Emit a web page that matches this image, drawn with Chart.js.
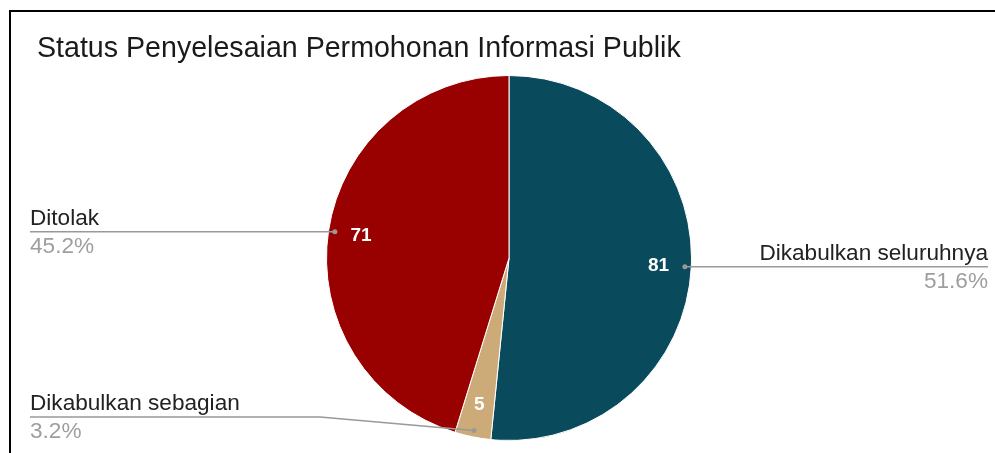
<!DOCTYPE html>
<html>
<head>
<meta charset="utf-8">
<script src="https://cdn.jsdelivr.net/npm/chart.js@4/dist/chart.umd.min.js"></script>
<style>
  html, body { margin: 0; padding: 0; background: #fff; }
  #wrap { position: relative; width: 995px; height: 453px; overflow: hidden; }
  #frame { position: absolute; left: 9px; top: 10px; right: -5px; bottom: -5px;
           border-left: 2px solid #000; border-top: 2px solid #000; }
  canvas { position: absolute; left: 0; top: 0; }
</style>
</head>
<body>
<div id="wrap">
  <div id="frame"></div>
  <canvas id="chart" width="995" height="453"></canvas>
</div>
<script>
// === Данные ===
const title = 'Status Penyelesaian Permohonan Informasi Publik';
const categories = ['Dikabulkan seluruhnya', 'Dikabulkan sebagian', 'Ditolak'];
const values = [81, 5, 71];
const colors = ['#094a5c', '#cdab79', '#990000'];

// где рисовать подписи (сторона и излом линии)
const labelLayout = [
  { side: 'right', lineY: null },
  { side: 'left', lineY: 417, elbowX: 320 },
  { side: 'left', lineY: null }
];

const FONT = '"Liberation Sans", Arial, sans-serif';

const calloutPlugin = {
  id: 'callouts',
  afterDatasetsDraw(chart) {
    const ctx = chart.ctx;
    const arcs = chart.getDatasetMeta(0).data;
    const total = values.reduce((a, b) => a + b, 0);

    // заголовок
    ctx.save();
    ctx.font = '28.6px ' + FONT;
    ctx.fillStyle = '#1a1a1a';
    ctx.textBaseline = 'alphabetic';
    ctx.textAlign = 'left';
    ctx.fillText(title, 37, 57);

    arcs.forEach((arc, i) => {
      const mid = (arc.startAngle + arc.endAngle) / 2;
      const R = arc.outerRadius;
      const dx = Math.cos(mid), dy = Math.sin(mid);

      // значение внутри сектора
      ctx.font = 'bold 19px ' + FONT;
      ctx.fillStyle = '#fff';
      ctx.textAlign = 'center';
      ctx.textBaseline = 'middle';
      ctx.fillText(String(values[i]), arc.x + dx * R * 0.82, arc.y + dy * R * 0.82);

      // выноска
      const px = arc.x + dx * R * 0.965;
      const py = arc.y + dy * R * 0.965;
      const lay = labelLayout[i];
      const ly = lay.lineY != null ? lay.lineY : py;
      const endX = lay.side === 'right' ? 988 : 30;
      ctx.strokeStyle = '#999';
      ctx.lineWidth = 1.5;
      ctx.beginPath();
      ctx.moveTo(px, py);
      if (lay.elbowX != null) ctx.lineTo(lay.elbowX, ly);
      ctx.lineTo(endX, ly);
      ctx.stroke();
      ctx.fillStyle = '#999';
      ctx.beginPath();
      ctx.arc(px, py, 2.5, 0, Math.PI * 2);
      ctx.fill();

      ctx.font = '22.6px ' + FONT;
      ctx.textAlign = lay.side === 'right' ? 'right' : 'left';
      ctx.textBaseline = 'alphabetic';
      ctx.fillStyle = '#222';
      ctx.fillText(categories[i], endX, ly - 7);
      ctx.fillStyle = '#9e9e9e';
      const pct = (values[i] / total * 100).toFixed(1) + '%';
      ctx.fillText(pct, endX, ly + 21);
    });
    ctx.restore();
  }
};

new Chart(document.getElementById('chart'), {
  type: 'pie',
  data: {
    labels: categories,
    datasets: [{
      data: values,
      backgroundColor: colors,
      borderColor: '#ffffff',
      borderWidth: 1
    }]
  },
  options: {
    responsive: false,
    animation: false,
    layout: { padding: { top: 75, bottom: 12, left: 23, right: 0 } },
    plugins: {
      legend: { display: false },
      tooltip: { enabled: false },
      title: { display: false }
    }
  },
  plugins: [calloutPlugin]
});
</script>
</body>
</html>
